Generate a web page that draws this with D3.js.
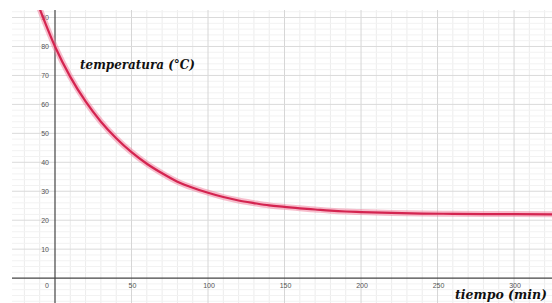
<!DOCTYPE html>
<html>
<head>
<meta charset="utf-8">
<script src="https://cdn.jsdelivr.net/npm/d3@7"></script>
<style>
  body { margin: 0; background: #fff; }
  svg { display: block; }
</style>
</head>
<body>
<div id="chart"></div>
<script>
// valores (tiempo en min, temperatura en °C)
const tiempo = [-10, 0, 10, 20, 30, 40, 50, 60, 70, 80, 90, 100, 110, 120, 130, 140, 150, 160, 170, 180, 190, 200, 220, 240, 260, 280, 300, 330];
const temperatura = [93, 80, 69.5, 61, 54, 48.3, 43.5, 39.5, 36.2, 33.3, 31.2, 29.5, 28.0, 26.8, 25.9, 25.1, 24.6, 24.1, 23.7, 23.3, 23.0, 22.8, 22.5, 22.3, 22.2, 22.1, 22.1, 22.0];
const xTicks = [50, 100, 150, 200, 250, 300];
const yTicks = [10, 20, 30, 40, 50, 60, 70, 80, 90];

const width = 552, height = 303;
const area = { left: 12, top: 10, right: 552, bottom: 303 };

const svg = d3.select("#chart").append("svg")
    .attr("width", width)
    .attr("height", height);

const x = d3.scaleLinear().domain([-28.1, 324.8]).range([area.left, area.right]);
const y = d3.scaleLinear().domain([-8.6, 92.6]).range([area.bottom, area.top]);

svg.append("clipPath").attr("id", "clip")
    .append("rect")
    .attr("x", area.left).attr("y", area.top)
    .attr("width", area.right - area.left).attr("height", area.bottom - area.top);

const grid = svg.append("g").attr("clip-path", "url(#clip)");

// rejilla menor
grid.selectAll(".vmin").data(d3.range(-20, 330, 10).filter(d => d % 50 !== 0))
    .enter().append("line")
    .attr("x1", d => x(d)).attr("x2", d => x(d))
    .attr("y1", area.top).attr("y2", area.bottom)
    .style("stroke", "#ececec").style("stroke-width", 1);

grid.selectAll(".hmin").data(d3.range(-8, 94, 2).filter(d => d % 10 !== 0))
    .enter().append("line")
    .attr("x1", area.left).attr("x2", area.right)
    .attr("y1", d => y(d)).attr("y2", d => y(d))
    .style("stroke", "#f2f2f2").style("stroke-width", 1);

// rejilla mayor
grid.selectAll(".vmaj").data(d3.range(-50, 350, 50).filter(d => d !== 0))
    .enter().append("line")
    .attr("x1", d => x(d)).attr("x2", d => x(d))
    .attr("y1", area.top).attr("y2", area.bottom)
    .style("stroke", "#d6d6d6").style("stroke-width", 1);

grid.selectAll(".hmaj").data(d3.range(10, 100, 10))
    .enter().append("line")
    .attr("x1", area.left).attr("x2", area.right)
    .attr("y1", d => y(d)).attr("y2", d => y(d))
    .style("stroke", "#dadada").style("stroke-width", 1);

// ejes
svg.append("line")
    .attr("x1", area.left).attr("x2", area.right)
    .attr("y1", y(0)).attr("y2", y(0))
    .style("stroke", "#444").style("stroke-width", 1.2);
svg.append("line")
    .attr("x1", x(0)).attr("x2", x(0))
    .attr("y1", area.top).attr("y2", area.bottom)
    .style("stroke", "#444").style("stroke-width", 1.2);

// etiquetas de los ejes
svg.selectAll(".ylab").data(yTicks)
    .enter().append("text")
    .attr("x", x(0) - 6)
    .attr("y", d => y(d) + 2.5)
    .attr("text-anchor", "end")
    .style("font-family", "Liberation Sans, Arial, sans-serif")
    .style("font-size", "7px")
    .style("fill", "#555")
    .text(d => d);

svg.selectAll(".xlab").data(xTicks)
    .enter().append("text")
    .attr("x", d => x(d) + 1)
    .attr("y", y(0) + 10)
    .attr("text-anchor", "middle")
    .style("font-family", "Liberation Sans, Arial, sans-serif")
    .style("font-size", "7px")
    .style("fill", "#555")
    .text(d => d);

svg.append("text")
    .attr("x", x(0) - 8)
    .attr("y", y(0) + 10)
    .attr("text-anchor", "middle")
    .style("font-family", "Liberation Sans, Arial, sans-serif")
    .style("font-size", "7px")
    .style("fill", "#555")
    .text("0");

// curva de enfriamiento
const line = d3.line()
    .x((d, i) => x(tiempo[i]))
    .y(d => y(d))
    .curve(d3.curveMonotoneX);

const curve = svg.append("g").attr("clip-path", "url(#clip)");
curve.append("path")
    .datum(temperatura)
    .attr("d", line)
    .style("fill", "none")
    .style("stroke", "#f07c9a")
    .style("stroke-opacity", 0.5)
    .style("stroke-width", 6);
curve.append("path")
    .datum(temperatura)
    .attr("d", line)
    .style("fill", "none")
    .style("stroke", "#d42450")
    .style("stroke-width", 2.2);

// titulos
svg.append("text")
    .attr("x", 80)
    .attr("y", 69)
    .attr("textLength", 115)
    .attr("lengthAdjust", "spacingAndGlyphs")
    .style("font-family", "DejaVu Serif, serif")
    .style("font-style", "italic")
    .style("font-weight", "bold")
    .style("font-size", "12px")
    .style("fill", "#111")
    .text("temperatura (°C)");

svg.append("text")
    .attr("x", 455)
    .attr("y", 299)
    .attr("textLength", 92)
    .attr("lengthAdjust", "spacingAndGlyphs")
    .style("font-family", "DejaVu Serif, serif")
    .style("font-style", "italic")
    .style("font-weight", "bold")
    .style("font-size", "12px")
    .style("fill", "#111")
    .text("tiempo (min)");
</script>
</body>
</html>
